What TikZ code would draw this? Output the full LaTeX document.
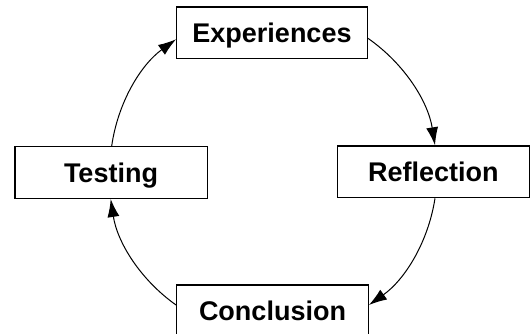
\documentclass[tikz,border=0pt]{standalone}
\usepackage{fontspec}
\setmainfont{Liberation Sans}
\usetikzlibrary{arrows.meta}
\begin{document}
\begin{tikzpicture}[x=1pt,y=1pt,
  stagebox/.style={draw=black, line width=1.3pt, fill=white, inner sep=0pt,
    minimum height=51.7pt, text height=19.3pt, text depth=0pt,
    font=\fontsize{27}{31}\selectfont\bfseries},
  cycle/.style={line width=1pt, -{Latex[length=18pt,width=12pt]}, bend left=23, looseness=0.9}]
\useasboundingbox (0,0) rectangle (531,334);
\node[stagebox, minimum width=190.6pt] (E) at (272,301) {Experiences};
\node[stagebox, minimum width=192.3pt] (T) at (111,161.5) {Testing};
\node[stagebox, minimum width=192pt] (R) at (433.3,162.2) {Reflection};
\node[stagebox, minimum width=191.6pt, minimum height=52pt] (C) at (272.5,23) {Conclusion};
\draw[cycle] ([xshift=0.7pt]T.north) to ([yshift=-6.3pt]E.west);
\draw[cycle] ([yshift=-5.3pt]E.east) to ([xshift=1.7pt]R.north);
\draw[cycle] ([xshift=1.7pt]R.south) to ([yshift=6pt]C.east);
\draw[cycle] ([yshift=6pt]C.west) to ([xshift=-0.3pt]T.south);
\end{tikzpicture}
\end{document}
